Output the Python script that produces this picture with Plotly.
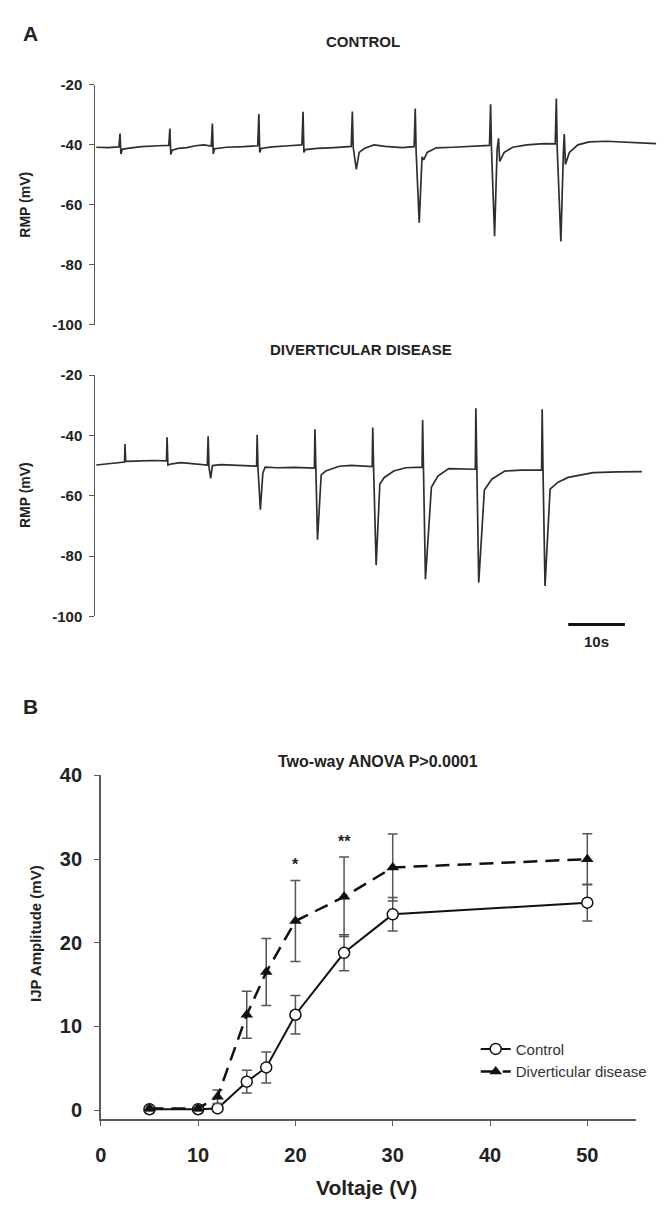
import plotly.graph_objects as go

# ---------------- Panel A: membrane potential recordings ----------------
# Control recording (time in s, membrane potential in mV)
CTRL_T = [0, 2, 4.0, 4.2, 4.35, 4.6, 5.5, 8, 11, 12.8,
          13.0, 13.15, 13.4, 14.5, 16, 17.5, 19, 20.3,
          20.5, 20.65, 20.9, 23, 26, 28.5,
          28.7, 28.85, 29.1, 31, 34, 36.3,
          36.5, 36.65, 36.9, 39, 42, 45.0,
          45.2, 45.35, 45.9, 46.4, 47.3, 49, 51, 54, 56.1,
          56.3, 56.45, 57.0, 57.5, 57.8, 58.4, 60, 63, 66, 69.4,
          69.6, 69.75, 70.3, 70.75, 71.0, 71.2, 72, 73.5, 76, 79, 81.0,
          81.2, 81.35, 82.0, 82.45, 82.6, 82.8, 83.5, 85, 87, 90, 93, 96, 98.8]
CTRL_MV = [-40.8, -40.9, -40.7, -36.2, -43.0, -41.5, -41.2, -40.6, -40.3, -40.2,
           -34.6, -43.2, -41.8, -41.2, -40.9, -40.3, -40.0, -40.4,
           -32.9, -43.0, -41.3, -40.8, -40.6, -40.3,
           -29.7, -42.5, -41.2, -40.7, -40.3, -40.0,
           -29.0, -42.5, -41.6, -41.2, -40.9, -40.5,
           -28.9, -40.8, -48.2, -42.5, -41.2, -40.0, -40.5, -40.9, -40.6,
           -27.9, -42.0, -65.9, -44.0, -45.0, -42.5, -41.0, -40.8, -40.6, -40.2,
           -26.5, -41.0, -70.4, -41.5, -37.8, -45.5, -42.5, -40.8, -40.0, -39.6, -39.7,
           -24.6, -41.0, -72.2, -42.0, -36.4, -46.5, -42.5, -40.0, -39.0, -38.8, -39.0, -39.3, -39.6]

# Diverticular disease recording (time in s, membrane potential in mV)
DD_T = [0, 2.5, 5.0,
        5.07, 5.2, 7, 10, 12.4,
        12.5, 12.65, 13.3, 15, 17, 19.6,
        19.75, 19.9, 20.2, 20.5, 22, 25, 28.3,
        28.4, 28.55, 28.97, 29.4, 29.8, 32, 35, 38.5,
        38.6, 38.75, 39.05, 39.7, 40.5, 42.9, 45, 48.7,
        48.8, 48.95, 49.4, 50.05, 50.8, 52.5, 54.6, 57.5,
        57.6, 57.75, 58.1, 59.15, 60.3, 62.2, 64.5, 66.9,
        67.0, 67.15, 67.5, 68.5, 69.8, 72.1, 75, 78.6,
        78.7, 78.85, 79.2, 80.1, 81.5, 83.3, 87.7, 92, 96.3]
DD_MV = [-49.8, -49.3, -48.8,
         -42.8, -48.6, -48.5, -48.3, -48.4,
         -40.6, -49.8, -49.4, -49.0, -49.3, -49.8,
         -40.3, -50.5, -54.2, -50.0, -49.7, -49.9, -50.2,
         -39.8, -51.0, -64.6, -52.5, -50.5, -50.7, -50.6, -50.8,
         -37.9, -51.0, -74.6, -53.1, -51.8, -50.2, -49.9, -50.3,
         -37.4, -51.0, -83.0, -56.1, -54.0, -51.8, -50.7, -50.5,
         -34.9, -51.0, -87.7, -57.2, -53.5, -51.0, -51.0, -51.2,
         -31.0, -51.5, -88.8, -58.1, -54.5, -51.8, -51.5, -51.4,
         -31.3, -51.5, -89.9, -57.8, -55.5, -53.9, -52.3, -52.1, -52.0]

RMP_TICKS = [-20, -40, -60, -80, -100]
SCALE_BAR_START_S = 83.3
SCALE_BAR_LEN_S = 10
SCALE_BAR_LABEL = "10s"

# ---------------- Panel B: IJP amplitude vs stimulus voltage ----------------
VOLT = [5, 10, 12, 15, 17, 20, 25, 30, 50]
CTRL_AMP = [0.1, 0.1, 0.2, 3.4, 5.1, 11.4, 18.8, 23.4, 24.8]
CTRL_SEM = [0.2, 0.2, 0.3, 1.35, 1.85, 2.3, 2.15, 2.0, 2.2]
DD_AMP = [0.2, 0.2, 1.6, 11.4, 16.5, 22.6, 25.5, 29.0, 30.0]
DD_SEM = [0.3, 0.3, 0.8, 2.8, 4.0, 4.85, 4.75, 4.0, 3.05]
SIG_VOLT = [20, 25]
SIG_MARK = ["*", "**"]
AMP_TICKS = [0, 10, 20, 30, 40]
VOLT_TICKS = [0, 10, 20, 30, 40, 50]

W, H = 664, 1209
FONT = "Liberation Sans, Arial, Helvetica, sans-serif"
INK = "#222222"
AXIS = "#5a5a5a"


def px(x):
    return x / W


def py(y):
    return 1 - y / H


fig = go.Figure()

fig.add_trace(go.Scatter(x=CTRL_T, y=CTRL_MV, mode="lines", xaxis="x", yaxis="y",
                         line=dict(color="#2e2e2e", width=1.7), showlegend=False,
                         hoverinfo="skip"))
fig.add_trace(go.Scatter(x=DD_T, y=DD_MV, mode="lines", xaxis="x2", yaxis="y2",
                         line=dict(color="#2e2e2e", width=1.7), showlegend=False,
                         hoverinfo="skip"))

fig.add_trace(go.Scatter(
    x=VOLT, y=CTRL_AMP, mode="lines+markers", name="Control",
    xaxis="x3", yaxis="y3",
    line=dict(color="#111111", width=2),
    marker=dict(symbol="circle", size=11, color="white",
                line=dict(color="#111111", width=1.5)),
    error_y=dict(type="data", array=CTRL_SEM, visible=True,
                 color="#555555", thickness=1.5, width=5)))
fig.add_trace(go.Scatter(
    x=VOLT, y=DD_AMP, mode="lines+markers", name="Diverticular disease",
    xaxis="x3", yaxis="y3",
    line=dict(color="#111111", width=2.5, dash="14px,8px"),
    marker=dict(symbol="triangle-up", size=11, color="#111111"),
    error_y=dict(type="data", array=DD_SEM, visible=True,
                 color="#555555", thickness=1.5, width=5)))

# trace axes: the time axis is hidden, only the RMP axis is drawn
t_left, t_right = -0.15, 99.5
rmp_axis = dict(range=[-100, -20], tickvals=RMP_TICKS,
                ticktext=[str(v) for v in RMP_TICKS],
                ticks="outside", ticklen=5,
                tickwidth=1.2, tickcolor=AXIS, showline=True, linecolor=AXIS,
                linewidth=1.3, showgrid=False, zeroline=False,
                tickfont=dict(family=FONT, size=15, color=INK, weight="bold"),
                ticklabelstandoff=4)
time_axis = dict(range=[t_left, t_right], visible=False, showgrid=False, zeroline=False)

fig.update_layout(
    width=W, height=H, margin=dict(l=0, r=0, t=0, b=0),
    paper_bgcolor="white", plot_bgcolor="white",
    xaxis=dict(domain=[px(90.2), px(660)], anchor="y", **time_axis),
    yaxis=dict(domain=[py(319), py(75)], anchor="x", **rmp_axis),
    xaxis2=dict(domain=[px(90.2), px(660)], anchor="y2", **time_axis),
    yaxis2=dict(domain=[py(615), py(370)], anchor="x2", **rmp_axis),
    xaxis3=dict(domain=[px(95.7), px(635.7)], anchor="y3", range=[0, 55],
                tickvals=VOLT_TICKS, ticks="outside", ticklen=5, tickwidth=1.3,
                tickcolor=AXIS, showline=True, linecolor=AXIS, linewidth=1.8,
                showgrid=False, zeroline=False, ticklabelstandoff=12,
                tickfont=dict(family=FONT, size=20, color=INK, weight="bold")),
    yaxis3=dict(domain=[py(1126), py(776.7)], anchor="x3", range=[-1.1, 40],
                tickvals=AMP_TICKS, ticks="outside", ticklen=5, tickwidth=1.3,
                tickcolor=AXIS, showline=True, linecolor=AXIS, linewidth=1.5,
                showgrid=False, zeroline=False, ticklabelstandoff=8,
                tickfont=dict(family=FONT, size=20, color=INK, weight="bold")),
    legend=dict(x=px(474), y=py(1038), xanchor="left", yanchor="top",
                bgcolor="rgba(0,0,0,0)", tracegroupgap=0,
                font=dict(family=FONT, size=15, color="#333333")),
    showlegend=True,
)

# 10 s scale bar under the diseased recording
fig.add_shape(type="line", xref="x2", yref="paper",
              x0=SCALE_BAR_START_S, x1=SCALE_BAR_START_S + SCALE_BAR_LEN_S,
              y0=py(623.3), y1=py(623.3), line=dict(color="#111111", width=3))

ann = []


def label(text, x, y, size, angle=0, weight="bold", color=INK, **kw):
    ann.append(dict(text=text, x=x, y=y, xref="paper", yref="paper",
                    showarrow=False, textangle=angle, xanchor="center",
                    yanchor="middle",
                    font=dict(family=FONT, size=size, color=color, weight=weight), **kw))


label("A", px(25), py(23), 21)
label("B", px(25), py(707), 21)
label("CONTROL", px(360), py(31), 15)
label("DIVERTICULAR DISEASE", px(358), py(344), 15)
label("RMP (mV)", px(19), py(197), 14, angle=-90)
label("RMP (mV)", px(19), py(492), 14, angle=-90)
label("Two-way ANOVA P>0.0001", px(375), py(762), 16)
label("Voltaje (V)", px(364), py(1195), 21)
label("IJP Amplitude (mV)", px(30), py(937), 15, angle=-90)

ann.append(dict(text=SCALE_BAR_LABEL, x=SCALE_BAR_START_S + SCALE_BAR_LEN_S / 2,
                y=py(641), xref="x2", yref="paper", showarrow=False,
                font=dict(family=FONT, size=15, color=INK, weight="bold")))

# significance marks above the diseased group's error bars
for v, mark in zip(SIG_VOLT, SIG_MARK):
    i = VOLT.index(v)
    ann.append(dict(text=mark, x=v, y=DD_AMP[i] + DD_SEM[i] + 0.6, xref="x3", yref="y3",
                    showarrow=False, yanchor="bottom",
                    font=dict(family=FONT, size=16, color=INK, weight="bold")))

fig.update_layout(annotations=ann)

fig.write_html("out.html")
